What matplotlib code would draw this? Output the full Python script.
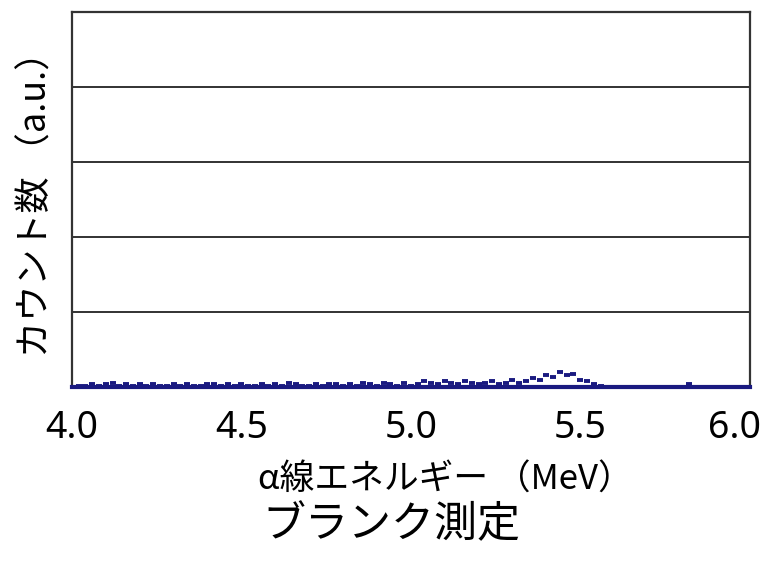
import matplotlib
matplotlib.use("Agg")
import matplotlib.pyplot as plt
from matplotlib.transforms import ScaledTranslation

plt.rcParams['font.family'] = ['Noto Sans', 'Noto Sans CJK JP', 'DejaVu Sans']

# Alpha-particle energy spectrum of a blank measurement (counts per bin)
energy_mev = [4.02, 4.04, 4.06, 4.08, 4.10, 4.12, 4.14, 4.16, 4.18, 4.20,
              4.22, 4.24, 4.26, 4.28, 4.30, 4.32, 4.34, 4.36, 4.38, 4.40,
              4.42, 4.44, 4.46, 4.48, 4.50, 4.52, 4.54, 4.56, 4.58, 4.60,
              4.62, 4.64, 4.66, 4.68, 4.70, 4.72, 4.74, 4.76, 4.78, 4.80,
              4.82, 4.84, 4.86, 4.88, 4.90, 4.92, 4.94, 4.96, 4.98, 5.00,
              5.02, 5.04, 5.06, 5.08, 5.10, 5.12, 5.14, 5.16, 5.18, 5.20,
              5.22, 5.24, 5.26, 5.28, 5.30, 5.32, 5.34, 5.36, 5.38, 5.40,
              5.42, 5.44, 5.46, 5.48, 5.50, 5.52, 5.54, 5.56, 5.82]
counts = [1, 1, 2, 1, 2, 3, 1, 2, 1, 2,
          1, 2, 1, 1, 2, 1, 2, 1, 1, 2,
          2, 1, 2, 1, 2, 1, 1, 2, 1, 2,
          1, 3, 2, 1, 1, 2, 1, 2, 2, 1,
          2, 1, 3, 2, 1, 3, 2, 1, 3, 1,
          2, 4, 3, 2, 4, 3, 2, 4, 3, 2,
          3, 4, 2, 3, 5, 3, 4, 6, 5, 8,
          7, 10, 8, 9, 5, 4, 2, 1, 2]

x_ticks = [4.0, 4.5, 5.0, 5.5, 6.0]
x_tick_labels = ["4.0", "4.5", "5.0", "5.5", "6.0"]
grid_levels = [50, 100, 150, 200]

navy = "#1a1a80"
cjk = ['Noto Sans CJK JP', 'Noto Sans', 'DejaVu Sans']

fig = plt.figure(figsize=(7.65, 5.62), dpi=100)
ax = fig.add_axes([0.094, 0.311, 0.886, 0.668])

ax.set_xlim(4.0, 6.0)
ax.set_ylim(0, 250)

for g in grid_levels:
    ax.axhline(g, color="#222222", lw=1.3, zorder=1)

ax.plot(energy_mev, counts, linestyle="none", marker="_", markersize=5,
        markeredgewidth=2.8, color=navy, zorder=3)

for side in ("left", "top", "right"):
    ax.spines[side].set_color("#333333")
    ax.spines[side].set_linewidth(1.6)
ax.spines["bottom"].set_color(navy)
ax.spines["bottom"].set_linewidth(3)

ax.set_xticks(x_ticks)
ax.set_xticklabels(x_tick_labels, fontsize=27)
ax.set_yticks([])
ax.tick_params(axis="x", length=0, pad=16)

# keep the right-most tick label inside the figure
last = ax.get_xticklabels()[-1]
last.set_transform(last.get_transform() +
                   ScaledTranslation(-0.15, 0, fig.dpi_scale_trans))

ax.set_xlabel("α線エネルギー （MeV）", fontsize=25, family=cjk)
ax.xaxis.set_label_coords(0.551, -0.2)
ax.set_ylabel("カウント数 （a.u.）", fontsize=26, family=cjk)
ax.yaxis.set_label_coords(-0.025, 0.512)

fig.text(0.511, 0.066, "ブランク測定", ha="center", va="center", fontsize=31,
         family=cjk)

fig.savefig("out.png", dpi=100)
